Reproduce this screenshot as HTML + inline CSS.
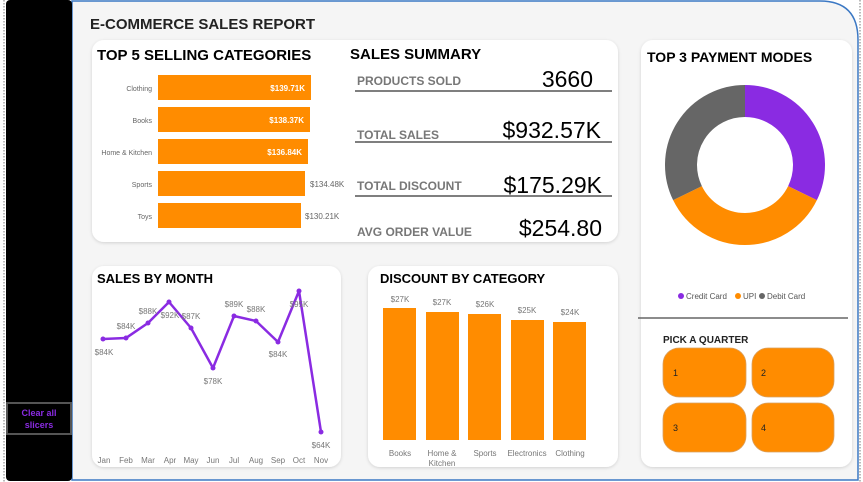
<!DOCTYPE html>
<html><head><style>
html,body{margin:0;padding:0;width:863px;height:482px;overflow:hidden;background:#fff}
svg{display:block;font-family:"Liberation Sans",sans-serif}
</style></head><body>
<svg width="863" height="482" viewBox="0 0 863 482">
<defs><filter id="sh" x="-5%" y="-5%" width="110%" height="110%"><feDropShadow dx="0" dy="1" stdDeviation="1.5" flood-color="#000" flood-opacity="0.15"/></filter></defs>
<rect x="0" y="0" width="863" height="482" fill="#fff"/>
<path d="M72 1 H820 Q858 1 858 40 V480 H72 Z" fill="#f5f5f5" stroke="#3b78c4" stroke-width="1.5"/>
<line x1="860" y1="0" x2="860" y2="482" stroke="#777" stroke-dasharray="1.5,1.5"/>
<line x1="4" y1="0" x2="4" y2="482" stroke="#777" stroke-dasharray="1.5,1.5"/>
<rect x="6" y="0" width="66" height="481" rx="4" fill="#000"/>
<rect x="7" y="403" width="64" height="31" fill="none" stroke="#555" stroke-width="2"/>
<text x="39" y="416" font-size="9" fill="#8a2be2" text-anchor="middle" font-weight="bold">Clear all</text>
<text x="39" y="428" font-size="9" fill="#8a2be2" text-anchor="middle" font-weight="bold">slicers</text>

<text x="90" y="29" font-size="15" font-weight="bold" fill="#222">E-COMMERCE SALES REPORT</text>

<!-- top card -->
<rect x="92" y="40" width="526" height="202" rx="12" fill="#fff" filter="url(#sh)"/>
<text x="97" y="60" font-size="15" font-weight="bold" fill="#000">TOP 5 SELLING CATEGORIES</text>
<g font-size="7" fill="#666" text-anchor="end">
<text x="152" y="91">Clothing</text><text x="152" y="123">Books</text><text x="152" y="155">Home &amp; Kitchen</text><text x="152" y="187">Sports</text><text x="152" y="219">Toys</text>
</g>
<g fill="#ff8c00">
<rect x="158" y="75" width="153" height="25"/><rect x="158" y="107" width="152" height="25"/><rect x="158" y="139" width="150" height="25"/><rect x="158" y="171" width="147" height="25"/><rect x="158" y="203" width="143" height="25"/>
</g>
<g font-size="8" text-anchor="end">
<text x="305" y="91" fill="#fff" font-weight="bold">$139.71K</text>
<text x="304" y="123" fill="#fff" font-weight="bold">$138.37K</text>
<text x="302" y="155" fill="#fff" font-weight="bold">$136.84K</text>
</g>
<g font-size="8" fill="#666"><text x="310" y="187">$134.48K</text><text x="305" y="219">$130.21K</text></g>

<text x="350" y="59" font-size="15" font-weight="bold" fill="#000">SALES SUMMARY</text>
<g font-size="12" font-weight="bold" fill="#777">
<text x="357" y="85">PRODUCTS SOLD</text><text x="357" y="139">TOTAL SALES</text><text x="357" y="190">TOTAL DISCOUNT</text><text x="357" y="236">AVG ORDER VALUE</text>
</g>
<g stroke="#333" stroke-width="1.3"><line x1="355" y1="91" x2="612" y2="91"/><line x1="355" y1="142" x2="612" y2="142"/><line x1="355" y1="196" x2="612" y2="196"/></g>
<g font-size="23" fill="#000" text-anchor="end">
<text x="593" y="87">3660</text><text x="601" y="138">$932.57K</text><text x="602" y="193">$175.29K</text><text x="602" y="236">$254.80</text>
</g>

<!-- sales by month -->
<rect x="92" y="266" width="249" height="201" rx="12" fill="#fff" filter="url(#sh)"/>
<text x="97" y="283" font-size="13" font-weight="bold" fill="#000">SALES BY MONTH</text>
<polyline points="103,339 126,338 148,323 169,302 191,328 213,368 234,316 256,321 278,342 299,291 321,432" fill="none" stroke="#8a2be2" stroke-width="2.5" stroke-linejoin="round"/>
<g fill="#8a2be2"><circle cx="103" cy="339" r="2.5"/><circle cx="126" cy="338" r="2.5"/><circle cx="148" cy="323" r="2.5"/><circle cx="169" cy="302" r="2.5"/><circle cx="191" cy="328" r="2.5"/><circle cx="213" cy="368" r="2.5"/><circle cx="234" cy="316" r="2.5"/><circle cx="256" cy="321" r="2.5"/><circle cx="278" cy="342" r="2.5"/><circle cx="299" cy="291" r="2.5"/><circle cx="321" cy="432" r="2.5"/></g>
<g font-size="8" fill="#777" text-anchor="middle">
<text x="104" y="355">$84K</text><text x="126" y="329">$84K</text><text x="148" y="314">$88K</text><text x="170" y="318">$92K</text><text x="191" y="319">$87K</text><text x="213" y="384">$78K</text><text x="234" y="307">$89K</text><text x="256" y="312">$88K</text><text x="278" y="357">$84K</text><text x="299" y="307">$95K</text><text x="321" y="448">$64K</text>
<text x="104" y="463">Jan</text><text x="126" y="463">Feb</text><text x="148" y="463">Mar</text><text x="170" y="463">Apr</text><text x="191" y="463">May</text><text x="213" y="463">Jun</text><text x="234" y="463">Jul</text><text x="256" y="463">Aug</text><text x="278" y="463">Sep</text><text x="299" y="463">Oct</text><text x="321" y="463">Nov</text>
</g>

<!-- discount -->
<rect x="368" y="266" width="250" height="201" rx="12" fill="#fff" filter="url(#sh)"/>
<text x="380" y="283" font-size="13" font-weight="bold" fill="#000">DISCOUNT BY CATEGORY</text>
<g fill="#ff8c00"><rect x="383" y="308" width="33" height="132"/><rect x="426" y="312" width="33" height="128"/><rect x="468" y="314" width="33" height="126"/><rect x="511" y="320" width="33" height="120"/><rect x="553" y="322" width="33" height="118"/></g>
<g font-size="8" fill="#777" text-anchor="middle">
<text x="400" y="302">$27K</text><text x="442" y="305">$27K</text><text x="485" y="307">$26K</text><text x="527" y="313">$25K</text><text x="570" y="315">$24K</text>
<text x="400" y="456">Books</text><text x="442" y="456">Home &amp;</text><text x="442" y="466">Kitchen</text><text x="485" y="456">Sports</text><text x="527" y="456">Electronics</text><text x="570" y="456">Clothing</text>
</g>

<!-- right card -->
<rect x="641" y="40" width="211" height="427" rx="12" fill="#fff" filter="url(#sh)"/>
<text x="647" y="62" font-size="14" font-weight="bold" fill="#000">TOP 3 PAYMENT MODES</text>
<g fill="none" stroke-width="32">
<path d="M745 101 A64 64 0 0 1 802.5 193.1" stroke="#8a2be2"/>
<path d="M802.5 193.1 A64 64 0 0 1 687.5 193.1" stroke="#ff8c00"/>
<path d="M687.5 193.1 A64 64 0 0 1 745 101" stroke="#666"/>
</g>
<g font-size="8" fill="#555">
<circle cx="681" cy="296" r="3" fill="#8a2be2"/><text x="686" y="299">Credit Card</text>
<circle cx="738" cy="296" r="3" fill="#ff8c00"/><text x="743" y="299">UPI</text>
<circle cx="762" cy="296" r="3" fill="#666"/><text x="767" y="299">Debit Card</text>
</g>
<line x1="638" y1="318" x2="848" y2="318" stroke="#666" stroke-width="1.5"/>
<text x="663" y="343" font-size="10" font-weight="bold" fill="#222">PICK A QUARTER</text>
<g fill="#ff8c00" stroke="#d9a060" stroke-width="0.8">
<rect x="663" y="348" width="83" height="49" rx="16"/><rect x="752" y="348" width="82" height="49" rx="16"/>
<rect x="663" y="403" width="83" height="49" rx="16"/><rect x="752" y="403" width="82" height="49" rx="16"/>
</g>
<g font-size="9" fill="#222"><text x="673" y="376">1</text><text x="761" y="376">2</text><text x="673" y="431">3</text><text x="761" y="431">4</text></g>
</svg>
</body></html>
